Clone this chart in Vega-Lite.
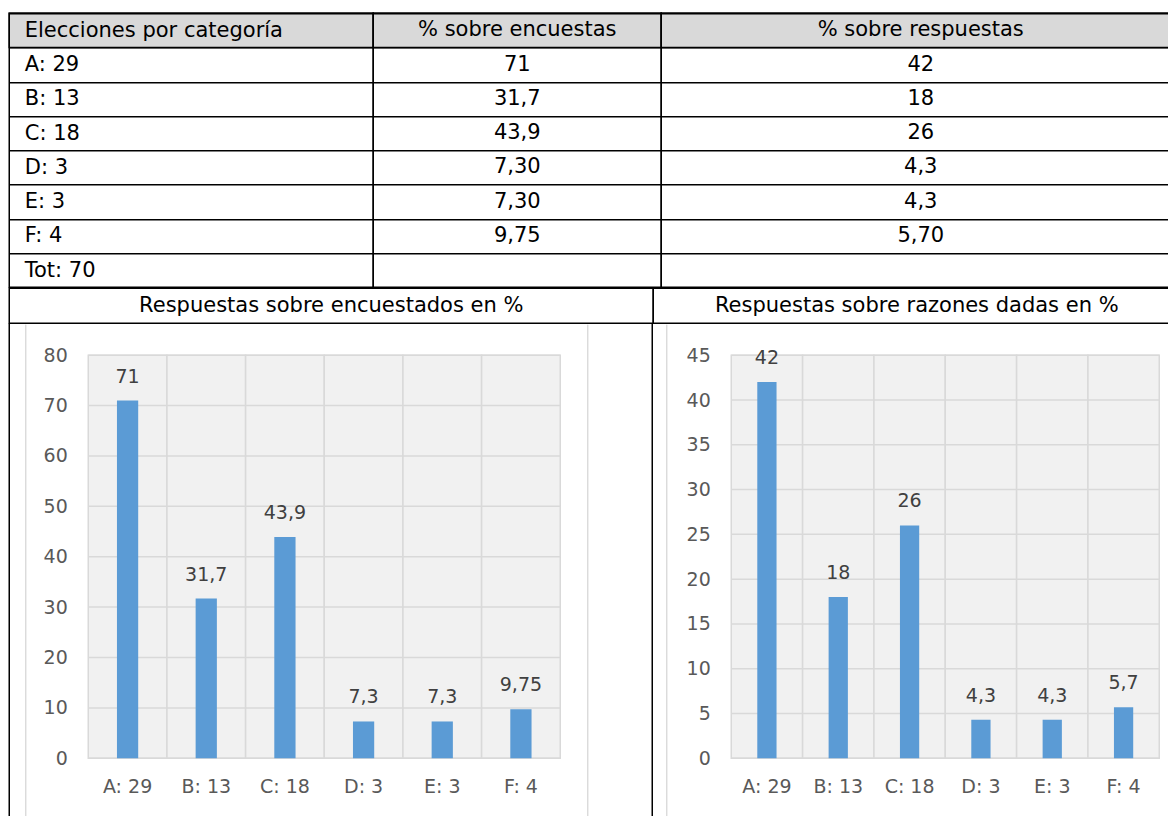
{
  "$schema": "https://vega.github.io/schema/vega-lite/v6.json",
  "background": "white",
  "padding": {"left": 7.25, "top": 1.25, "right": 0, "bottom": 0},
  "config": {
    "font": "DejaVu Sans",
    "view": {"stroke": "black", "strokeWidth": 1.5},
    "locale": {
      "number": {"decimal": ",", "thousands": ".", "grouping": [3], "currency": ["", " €"]}
    }
  },
  "datasets": {
    "tabla": [
      {"c1": "Elecciones por categoría", "c2": "% sobre encuestas", "c3": "% sobre respuestas"},
      {"c1": "A: 29", "c2": "71", "c3": "42"},
      {"c1": "B: 13", "c2": "31,7", "c3": "18"},
      {"c1": "C: 18", "c2": "43,9", "c3": "26"},
      {"c1": "D: 3", "c2": "7,30", "c3": "4,3"},
      {"c1": "E: 3", "c2": "7,30", "c3": "4,3"},
      {"c1": "F: 4", "c2": "9,75", "c3": "5,70"},
      {"c1": "Tot: 70", "c2": "", "c3": ""}
    ],
    "barras": [
      {"categoria": "A: 29", "encuestados": 71, "razones": 42},
      {"categoria": "B: 13", "encuestados": 31.7, "razones": 18},
      {"categoria": "C: 18", "encuestados": 43.9, "razones": 26},
      {"categoria": "D: 3", "encuestados": 7.3, "razones": 4.3},
      {"categoria": "E: 3", "encuestados": 7.3, "razones": 4.3},
      {"categoria": "F: 4", "encuestados": 9.75, "razones": 5.7}
    ],
    "rejilla80": [{"v": 0}, {"v": 10}, {"v": 20}, {"v": 30}, {"v": 40}, {"v": 50}, {"v": 60}, {"v": 70}, {"v": 80}],
    "rejilla45": [{"v": 0}, {"v": 5}, {"v": 10}, {"v": 15}, {"v": 20}, {"v": 25}, {"v": 30}, {"v": 35}, {"v": 40}, {"v": 45}],
    "vacio": []
  },
  "spacing": -1.5,
  "vconcat": [
    {
      "bounds": "flush",
      "spacing": 0,
      "hconcat": [
        {
          "width": 364,
          "height": 274,
          "data": {"name": "tabla"},
          "view": {"stroke": "black", "strokeWidth": 1.5},
          "encoding": {
            "y": {
              "field": "c1", "type": "nominal", "sort": null,
              "scale": {"domain": ["Elecciones por categoría", "A: 29", "B: 13", "C: 18", "D: 3", "E: 3", "F: 4", "Tot: 70"], "paddingInner": 0, "paddingOuter": 0},
              "axis": {"title": null, "tickBand": "extent", "grid": true, "gridColor": "black", "gridWidth": 1.5, "domain": false, "ticks": false, "tickSize": 0, "labelAlign": "left", "labelPadding": -15, "labelFontSize": 21, "labelColor": "black", "labelLimit": 0, "zindex": 1}
            }
          },
          "layer": [
            {
              "transform": [{"filter": "datum.c1 === 'Elecciones por categoría'"}],
              "mark": {"type": "rect", "fill": "#d9d9d9", "stroke": "black", "strokeWidth": 1.5},
              "encoding": {"x": {"value": 0}, "x2": {"value": "width"}}
            }
          ]
        },
        {
          "width": 288,
          "height": 274,
          "data": {"name": "tabla"},
          "view": {"stroke": "black", "strokeWidth": 1.5},
          "encoding": {
            "y": {
              "field": "c1", "type": "nominal", "sort": null,
              "scale": {"domain": ["Elecciones por categoría", "A: 29", "B: 13", "C: 18", "D: 3", "E: 3", "F: 4", "Tot: 70"], "paddingInner": 0, "paddingOuter": 0},
              "axis": {"title": null, "tickBand": "extent", "grid": true, "gridColor": "black", "gridWidth": 1.5, "domain": false, "ticks": false, "tickSize": 0, "labels": false, "zindex": 1}
            }
          },
          "layer": [
            {
              "transform": [{"filter": "datum.c1 === 'Elecciones por categoría'"}],
              "mark": {"type": "rect", "fill": "#d9d9d9", "stroke": "black", "strokeWidth": 1.5},
              "encoding": {"x": {"value": 0}, "x2": {"value": "width"}}
            },
            {
              "mark": {"type": "text", "fontSize": 21, "color": "black"},
              "encoding": {"text": {"field": "c2"}}
            }
          ]
        },
        {
          "width": 519,
          "height": 274,
          "data": {"name": "tabla"},
          "view": {"stroke": "black", "strokeWidth": 1.5},
          "encoding": {
            "y": {
              "field": "c1", "type": "nominal", "sort": null,
              "scale": {"domain": ["Elecciones por categoría", "A: 29", "B: 13", "C: 18", "D: 3", "E: 3", "F: 4", "Tot: 70"], "paddingInner": 0, "paddingOuter": 0},
              "axis": {"title": null, "tickBand": "extent", "grid": true, "gridColor": "black", "gridWidth": 1.5, "domain": false, "ticks": false, "tickSize": 0, "labels": false, "zindex": 1}
            }
          },
          "layer": [
            {
              "transform": [{"filter": "datum.c1 === 'Elecciones por categoría'"}],
              "mark": {"type": "rect", "fill": "#d9d9d9", "stroke": "black", "strokeWidth": 1.5},
              "encoding": {"x": {"value": 0}, "x2": {"value": "width"}}
            },
            {
              "mark": {"type": "text", "fontSize": 21, "color": "black"},
              "encoding": {"text": {"field": "c3"}}
            }
          ]
        }
      ]
    },
    {
      "bounds": "flush",
      "spacing": 0,
      "hconcat": [
        {
          "width": 644,
          "height": 35,
          "data": {"values": [{"titulo": "Respuestas sobre encuestados en %"}]},
          "view": {"stroke": "black", "strokeWidth": 1.5},
          "mark": {"type": "text", "fontSize": 21, "color": "black"},
          "encoding": {"text": {"field": "titulo"}}
        },
        {
          "width": 527,
          "height": 35,
          "data": {"values": [{"titulo": "Respuestas sobre razones dadas en %"}]},
          "view": {"stroke": "black", "strokeWidth": 1.5},
          "mark": {"type": "text", "fontSize": 21, "color": "black"},
          "encoding": {"text": {"field": "titulo"}}
        }
      ]
    },
    {
      "bounds": "flush",
      "spacing": 0,
      "hconcat": [
        {"width": 0.001, "height": 496, "data": {"name": "vacio"}, "mark": "point", "view": {"stroke": "black", "strokeWidth": 1.5}},
        {"width": 15, "height": 496, "data": {"name": "vacio"}, "mark": "point", "view": {"stroke": null}},
        {"width": 0.001, "height": 496, "data": {"name": "vacio"}, "mark": "point", "view": {"stroke": "#d9d9d9", "strokeWidth": 1}},
        {"width": 62, "height": 496, "data": {"name": "vacio"}, "mark": "point", "view": {"stroke": null}},
        {
          "width": 472,
          "height": 434,
          "view": {"stroke": null},
          "encoding": {
            "y": {
              "type": "quantitative",
              "scale": {"domain": [0, 86.1538], "nice": false, "zero": true},
              "axis": {"title": null, "values": [0, 10, 20, 30, 40, 50, 60, 70, 80], "grid": false, "domain": false, "ticks": false, "tickSize": 0, "labelPadding": 21, "labelFontSize": 19, "labelColor": "#595959", "format": "d"}
            }
          },
          "layer": [
            {
              "data": {"name": "barras"},
              "mark": {"type": "rect", "fill": "#f1f1f1", "stroke": "#d9d9d9", "strokeWidth": 1.5},
              "encoding": {
                "x": {
                  "field": "categoria", "type": "nominal", "sort": null,
                  "scale": {"paddingInner": 0, "paddingOuter": 0},
                  "axis": {"title": null, "grid": false, "domain": false, "ticks": false, "tickSize": 0, "labelAngle": 0, "labelPadding": 19, "labelFontSize": 19, "labelColor": "#595959"}
                },
                "y": {"datum": 0},
                "y2": {"datum": 80}
              }
            },
            {
              "data": {"name": "rejilla80"},
              "mark": {"type": "rule", "color": "#d9d9d9", "strokeWidth": 1.5},
              "encoding": {"y": {"field": "v"}}
            },
            {
              "data": {"name": "barras"},
              "mark": {"type": "bar", "color": "#5b9bd5", "width": {"band": 0.27}},
              "encoding": {
                "x": {"field": "categoria", "type": "nominal", "sort": null},
                "y": {"field": "encuestados"}
              }
            },
            {
              "data": {"name": "barras"},
              "mark": {"type": "text", "fontSize": 19, "color": "#404040", "baseline": "alphabetic", "dy": -18},
              "encoding": {
                "x": {"field": "categoria", "type": "nominal", "sort": null},
                "y": {"field": "encuestados"},
                "text": {"field": "encuestados", "type": "quantitative", "format": "~g"}
              }
            }
          ]
        },
        {"width": 27, "height": 496, "data": {"name": "vacio"}, "mark": "point", "view": {"stroke": null}},
        {"width": 0.001, "height": 496, "data": {"name": "vacio"}, "mark": "point", "view": {"stroke": "#d9d9d9", "strokeWidth": 1}},
        {"width": 64, "height": 496, "data": {"name": "vacio"}, "mark": "point", "view": {"stroke": null}},
        {"width": 0.001, "height": 496, "data": {"name": "vacio"}, "mark": "point", "view": {"stroke": "black", "strokeWidth": 1.5}},
        {"width": 13, "height": 496, "data": {"name": "vacio"}, "mark": "point", "view": {"stroke": null}},
        {"width": 0.001, "height": 496, "data": {"name": "vacio"}, "mark": "point", "view": {"stroke": "#d9d9d9", "strokeWidth": 1}},
        {"width": 64, "height": 496, "data": {"name": "vacio"}, "mark": "point", "view": {"stroke": null}},
        {
          "width": 428,
          "height": 434,
          "view": {"stroke": null},
          "encoding": {
            "y": {
              "type": "quantitative",
              "scale": {"domain": [0, 48.4615], "nice": false, "zero": true},
              "axis": {"title": null, "values": [0, 5, 10, 15, 20, 25, 30, 35, 40, 45], "grid": false, "domain": false, "ticks": false, "tickSize": 0, "labelPadding": 21, "labelFontSize": 19, "labelColor": "#595959", "format": "d"}
            }
          },
          "layer": [
            {
              "data": {"name": "barras"},
              "mark": {"type": "rect", "fill": "#f1f1f1", "stroke": "#d9d9d9", "strokeWidth": 1.5},
              "encoding": {
                "x": {
                  "field": "categoria", "type": "nominal", "sort": null,
                  "scale": {"paddingInner": 0, "paddingOuter": 0},
                  "axis": {"title": null, "grid": false, "domain": false, "ticks": false, "tickSize": 0, "labelAngle": 0, "labelPadding": 19, "labelFontSize": 19, "labelColor": "#595959"}
                },
                "y": {"datum": 0},
                "y2": {"datum": 45}
              }
            },
            {
              "data": {"name": "rejilla45"},
              "mark": {"type": "rule", "color": "#d9d9d9", "strokeWidth": 1.5},
              "encoding": {"y": {"field": "v"}}
            },
            {
              "data": {"name": "barras"},
              "mark": {"type": "bar", "color": "#5b9bd5", "width": {"band": 0.27}},
              "encoding": {
                "x": {"field": "categoria", "type": "nominal", "sort": null},
                "y": {"field": "razones"}
              }
            },
            {
              "data": {"name": "barras"},
              "mark": {"type": "text", "fontSize": 19, "color": "#404040", "baseline": "alphabetic", "dy": -18},
              "encoding": {
                "x": {"field": "categoria", "type": "nominal", "sort": null},
                "y": {"field": "razones"},
                "text": {"field": "razones", "type": "quantitative", "format": "~g"}
              }
            }
          ]
        }
      ]
    }
  ]
}
